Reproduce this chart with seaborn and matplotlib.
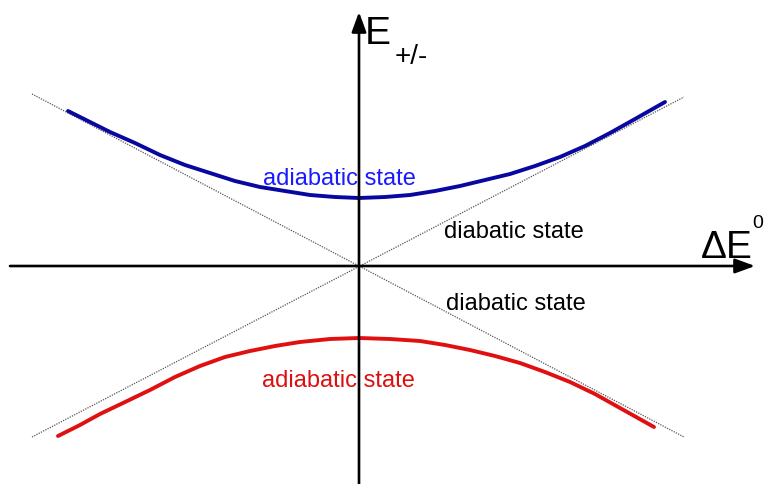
import matplotlib
matplotlib.use("Agg")
import matplotlib.pyplot as plt
import seaborn as sns
import pandas as pd

# Coordinates (offsets from the crossing point)
# Upper adiabatic state
upper_x = [-291, -269, -249, -224, -199, -174, -149, -124, -99, -74, -49, -24, 0,
           26, 51, 76, 101, 126, 151, 176, 201, 226, 251, 276, 306]
upper_y = [155, 144, 134, 123, 111, 101, 93, 85, 79, 75, 71, 69, 68,
           69, 71, 75, 80, 86, 92, 100, 109, 120, 133, 147, 164]
# Lower adiabatic state
lower_x = [-301, -279, -259, -236, -209, -184, -159, -134, -109, -84, -59, -29, 0,
           31, 61, 86, 111, 136, 161, 186, 211, 236, 261, 295]
lower_y = [-170, -159, -148, -137, -124, -111, -100, -91, -85, -80, -76, -73, -72,
           -73, -75, -79, -84, -90, -97, -106, -116, -128, -142, -161]
# Diabatic states (dotted straight lines)
diab1_x = [-327, 325]
diab1_y = [172, -171]
diab2_x = [-327, 325]
diab2_y = [-171, 169]

sns.set_style("white")
plt.rcParams["font.family"] = ["Liberation Sans", "DejaVu Sans"]
plt.rcParams["text.color"] = "black"

fig = plt.figure(figsize=(7.64, 4.84), dpi=100)
ax = fig.add_axes([0, 0, 1, 1])
ax.set_xlim(-359, 405)
ax.set_ylim(-218, 266)
ax.axis("off")

for dx, dy in [(diab1_x, diab1_y), (diab2_x, diab2_y)]:
    ax.plot(dx, dy, color="#555555", lw=0.9, ls=(0, (1, 1)), zorder=1)

up = pd.DataFrame({"x": upper_x, "y": upper_y})
lo = pd.DataFrame({"x": lower_x, "y": lower_y})
sns.lineplot(data=up, x="x", y="y", sort=False, estimator=None, color="#0808a0", lw=2.8, ax=ax, zorder=3)
sns.lineplot(data=lo, x="x", y="y", sort=False, estimator=None, color="#e01010", lw=2.8, ax=ax, zorder=3)

ap = dict(arrowstyle="-|>,head_length=0.6,head_width=0.22", lw=1.9, color="black",
          shrinkA=0, shrinkB=0, mutation_scale=20)
ax.annotate("", xy=(396, 0), xytext=(-349, 0), arrowprops=ap, zorder=4)
ax.annotate("", xy=(0, 254), xytext=(0, -218), arrowprops=ap, zorder=4)

ax.text(6, 222, "E", fontsize=28, ha="left", va="baseline")
ax.text(36, 202, "+/-", fontsize=20, ha="left", va="baseline")
ax.text(342, 8, "ΔE", fontsize=28, ha="left", va="baseline")
ax.text(393, 38, "0", fontsize=14, ha="left", va="baseline")

ax.text(-20, 87, "adiabatic state", fontsize=17, color="#1a1aff", ha="center", va="center")
ax.text(-21, -115, "adiabatic state", fontsize=17, color="#dd1010", ha="center", va="center")
ax.text(155, 34, "diabatic state", fontsize=17, color="black", ha="center", va="center")
ax.text(157, -38, "diabatic state", fontsize=17, color="black", ha="center", va="center")

fig.savefig("out.png", dpi=100)
